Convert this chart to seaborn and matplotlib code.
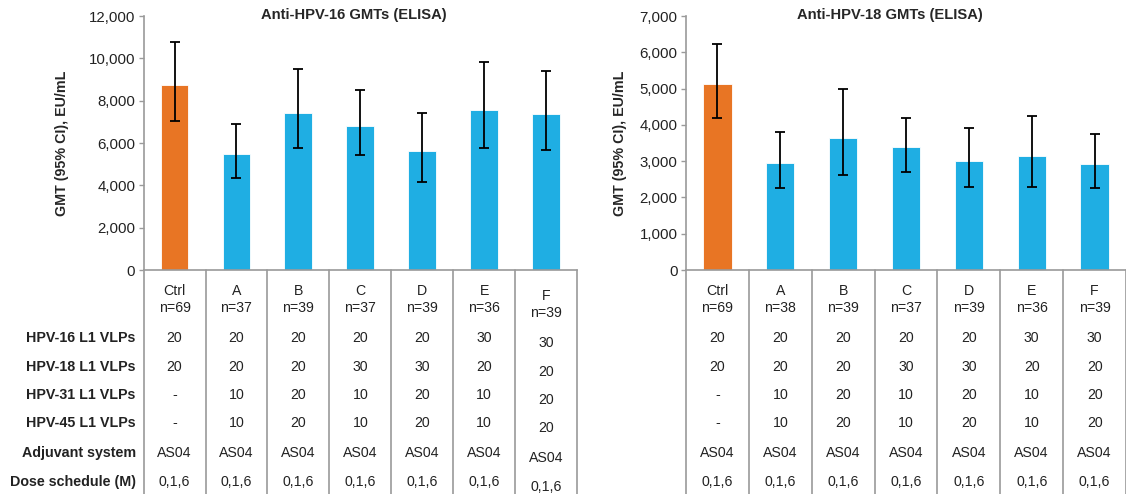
import numpy as np
import matplotlib
matplotlib.use('Agg')
import matplotlib.pyplot as plt
from matplotlib.ticker import FuncFormatter
import seaborn as sns

# groups and sample sizes
groups = ['Ctrl', 'A', 'B', 'C', 'D', 'E', 'F']
n_hpv16 = [69, 37, 39, 37, 39, 36, 39]
n_hpv18 = [69, 38, 39, 37, 39, 36, 39]

# GMTs with 95% CI
gmt16 = [8740, 5480, 7400, 6820, 5610, 7540, 7370]
lo16 = [7040, 4360, 5780, 5430, 4170, 5780, 5690]
hi16 = [10770, 6880, 9500, 8500, 7430, 9810, 9400]

gmt18 = [5120, 2950, 3630, 3380, 3000, 3130, 2930]
lo18 = [4190, 2270, 2620, 2710, 2300, 2300, 2270]
hi18 = [6220, 3810, 4990, 4200, 3920, 4240, 3750]

# formulation table
row_labels = ['HPV-16 L1 VLPs', 'HPV-18 L1 VLPs', 'HPV-31 L1 VLPs',
              'HPV-45 L1 VLPs', 'Adjuvant system', 'Dose schedule (M)']
hpv16_dose = ['20', '20', '20', '20', '20', '30', '30']
hpv18_dose = ['20', '20', '20', '30', '30', '20', '20']
hpv31_dose = ['-', '10', '20', '10', '20', '10', '20']
hpv45_dose = ['-', '10', '20', '10', '20', '10', '20']
adjuvant = ['AS04'] * 7
schedule = ['0,1,6'] * 7
table_rows = [hpv16_dose, hpv18_dose, hpv31_dose, hpv45_dose, adjuvant, schedule]

ORANGE = '#E87524'
BLUE = '#1FAEE3'
GREY = '#9A9A9A'
colors = [ORANGE] + [BLUE] * 6

sns.set_style('white')
plt.rcParams['font.family'] = ['Liberation Sans', 'DejaVu Sans']
plt.rcParams['font.size'] = 10

W, H = 1126, 494
fig = plt.figure(figsize=(W / 100, H / 100), dpi=100)

# axes in pixel terms: x0, x1, y-top (max tick), y-zero
ax1 = fig.add_axes([143.6 / W, (H - 270) / H, (577 - 143.6) / W, 254 / H])
ax2 = fig.add_axes([686 / W, (H - 270) / H, (1126 - 686) / W, 254 / H])

row_y = [-0.2665, -0.380, -0.492, -0.602, -0.720, -0.833]


def draw_panel(ax, gmt, lo, hi, ns, ymax, ystep, title_x, title, label_x,
               show_rows, shift_last=0.0):
    sns.barplot(x=groups, y=gmt, hue=groups, palette=colors, saturation=1,
                width=0.45, errorbar=None, legend=False, ax=ax,
                edgecolor='white', linewidth=0.6)
    gmt_a = np.array(gmt)
    yerr = [gmt_a - np.array(lo), np.array(hi) - gmt_a]
    ax.errorbar(range(len(groups)), gmt, yerr=yerr, fmt='none', ecolor='black',
                elinewidth=1.3, capsize=3.5, capthick=1.3)
    ax.set_xlim(-0.5, len(groups) - 0.5)
    ax.set_ylim(0, ymax)
    ax.set_yticks(np.arange(0, ymax + 1, ystep))
    ax.yaxis.set_major_formatter(FuncFormatter(lambda v, p: f'{int(v):,}'))
    ax.tick_params(axis='y', left=True, length=3.6, width=1, color=GREY,
                   labelsize=10.8, labelcolor='#222222', pad=2.5)
    ax.tick_params(axis='x', bottom=False, labelbottom=False)
    ax.set_xlabel('')
    ax.set_ylabel('GMT (95% CI), EU/mL', fontweight='bold', fontsize=10.3)
    ax.yaxis.set_label_coords(label_x, 0.5)
    for s in ['top', 'right']:
        ax.spines[s].set_visible(False)
    for s in ['left', 'bottom']:
        ax.spines[s].set_color(GREY)
        ax.spines[s].set_linewidth(1.2)

    fig.text(title_x / W, 1 - 15 / H, title, ha='center', va='center',
             fontweight='bold', fontsize=10.6)

    trans = ax.get_xaxis_transform()
    # column separators running down through the table
    for k in range(len(groups) + 1):
        ax.plot([k - 0.5, k - 0.5], [0, -0.885], transform=trans, color=GREY,
                lw=1.2, clip_on=False)

    for i, g in enumerate(groups):
        dy = shift_last if i == len(groups) - 1 else 0.0
        ax.text(i, -0.0815 + dy, g, transform=trans, ha='center', va='center',
                fontsize=10.2, color='#222222')
        ax.text(i, -0.150 + dy, f'n={ns[i]}', transform=trans, ha='center',
                va='center', fontsize=10.2, color='#222222')
        for ry, row in zip(row_y, table_rows):
            ax.text(i, ry + dy, row[i], transform=trans, ha='center',
                    va='center', fontsize=10.2, color='#222222')

    if show_rows:
        for ry, lab in zip(row_y, row_labels):
            ax.text(-0.018, ry, lab, transform=ax.transAxes, ha='right',
                    va='center', fontsize=10.3, fontweight='bold', color='#222222')


draw_panel(ax1, gmt16, lo16, hi16, n_hpv16, 12000, 2000, 354,
           'Anti-HPV-16 GMTs (ELISA)', -0.172, True, shift_last=-0.02)
draw_panel(ax2, gmt18, lo18, hi18, n_hpv18, 7000, 1000, 890,
           'Anti-HPV-18 GMTs (ELISA)', -0.134, False)

fig.savefig('out.png', dpi=100)
